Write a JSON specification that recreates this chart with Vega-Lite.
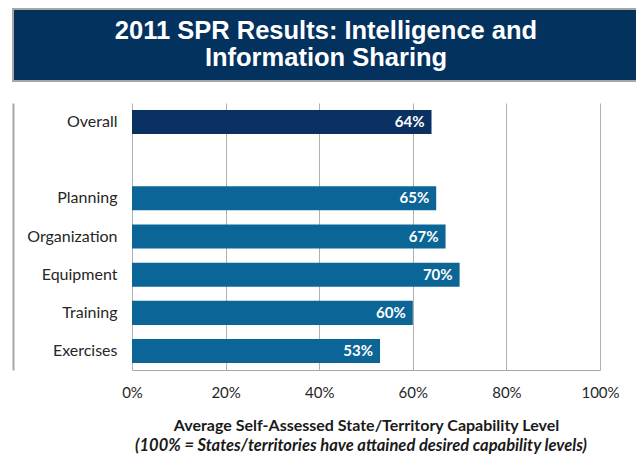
{
  "$schema": "https://vega.github.io/schema/vega-lite/v6.json",
  "padding": {"left": 12, "top": 8, "right": 0, "bottom": 0},
  "background": "white",
  "spacing": 0,
  "config": {"font": "Lato"},
  "vconcat": [
    {
      "width": 626,
      "height": 72,
      "view": {"fill": "#04325f", "stroke": "#a6a6a6", "strokeWidth": 2},
      "data": {"values": [{"title": "2011 SPR Results: Intelligence and\nInformation Sharing"}]},
      "mark": {"type": "text", "lineBreak": "\n", "font": "Liberation Sans", "fontSize": 25.5, "fontWeight": "bold", "color": "white", "lineHeight": 27, "baseline": "middle", "align": "center", "dy": -14, "dx": 0},
      "encoding": {"text": {"field": "title", "type": "nominal"}}
    },
    {
      "width": 626,
      "height": 309,
      "view": {"stroke": null},
      "data": {
        "values": [
          {"category": "Overall", "kind": "Overall", "value": 0.64},
          {"category": "Planning", "kind": "Component", "value": 0.65},
          {"category": "Organization", "kind": "Component", "value": 0.67},
          {"category": "Equipment", "kind": "Component", "value": 0.70},
          {"category": "Training", "kind": "Component", "value": 0.60},
          {"category": "Exercises", "kind": "Component", "value": 0.53}
        ]
      },
      "title": {
        "text": "(100% = States/territories  have attained desired capability levels)",
        "orient": "bottom",
        "frame": "group",
        "anchor": "middle",
        "offset": 5,
        "dx": 35,
        "font": "Lato",
        "fontSize": 16.5,
        "fontStyle": "italic",
        "fontWeight": "bold",
        "color": "#1a1a1a"
      },
      "encoding": {
        "y": {
          "field": "category",
          "type": "nominal",
          "sort": null,
          "scale": {"domain": ["Overall", "", "Planning", "Organization", "Equipment", "Training", "Exercises"], "range": [21, 288], "paddingInner": 0.37, "paddingOuter": 0.18},
          "axis": {
            "title": null,
            "ticks": false,
            "grid": false,
            "domain": true,
            "domainColor": "#a6a6a6",
            "domainWidth": 2,
            "labelPadding": -104,
            "labelFontSize": 16,
            "labelColor": "#262626"
          }
        },
        "x": {
          "field": "value",
          "type": "quantitative",
          "scale": {"domain": [0, 1], "range": [119, 587]},
          "axis": {
            "format": ".0%",
            "values": [0, 0.2, 0.4, 0.6, 0.8, 1],
            "offset": -21,
            "grid": true,
            "gridColor": "#b0b0b0",
            "domainColor": "#a6a6a6",
            "ticks": false,
            "labelFlush": false,
            "labelOverlap": false,
            "labelPadding": 15,
            "labelFontSize": 15,
            "labelColor": "#262626",
            "title": "Average Self-Assessed State/Territory Capability Level",
            "titleFontSize": 16,
            "titleFontWeight": "bold",
            "titleColor": "#1a1a1a",
            "titlePadding": 17
          }
        }
      },
      "layer": [
        {
          "mark": {"type": "bar"},
          "encoding": {
            "color": {"field": "kind", "type": "nominal", "scale": {"domain": ["Overall", "Component"], "range": ["#0a3161", "#0b6597"]}, "legend": null}
          }
        },
        {
          "mark": {"type": "text", "align": "right", "dx": -7, "baseline": "middle", "color": "white", "fontWeight": "bold", "fontSize": 15},
          "encoding": {"text": {"field": "value", "type": "quantitative", "format": ".0%"}}
        }
      ]
    }
  ]
}
